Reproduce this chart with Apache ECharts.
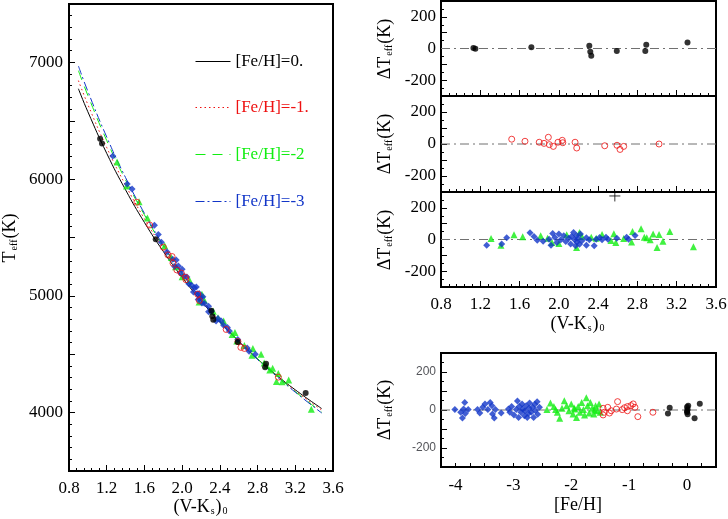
<!DOCTYPE html>
<html>
<head>
<meta charset="utf-8">
<script src="https://cdn.jsdelivr.net/npm/echarts@6/dist/echarts.min.js"></script>
<style>
  html, body { margin: 0; padding: 0; background: #fff; }
  #main { width: 728px; height: 519px; }
</style>
</head>
<body>
<div id="main"></div>
<script>
// fitted relations Teff(V-K) per metallicity
const curveVK = [0.9, 1.0, 1.2, 1.4, 1.6, 1.8, 2.0, 2.2, 2.4, 2.6, 2.8, 3.0, 3.2, 3.48];
const curveFe0 = [6774, 6577, 6221, 5908, 5629, 5381, 5159, 4958, 4776, 4611, 4460, 4322, 4195, 4035];
const curveFe1 = [6844, 6639, 6271, 5948, 5661, 5406, 5174, 4968, 4781, 4611, 4458, 4317, 4187, 4023];
const curveFe2 = [6929, 6717, 6331, 5993, 5694, 5426, 5189, 4978, 4786, 4616, 4460, 4317, 4180, 4003];
const curveFe3 = [6969, 6752, 6361, 6013, 5707, 5436, 5194, 4978, 4786, 4611, 4455, 4312, 4175, 3997];

// stars, [Fe/H] ~ 0
const vkFe0 = [1.13, 1.15, 1.72, 2.31, 2.32, 2.33, 2.59, 2.88, 2.89, 3.31];
const teffFe0 = [6345, 6305, 5485, 4873, 4826, 4795, 4604, 4389, 4418, 4168];
const dtFe0 = [3, -1, 8, 17, -21, -45, -15, -15, 23, 38];

// [Fe/H] ~ -1
const vkFe1 = [1.52, 1.655, 1.80, 1.849, 1.893, 1.903, 1.944, 1.991, 2.035, 2.04, 2.165, 2.182, 2.467, 2.592, 2.623, 2.66, 3.02];
const teffFe1 = [5802, 5607, 5417, 5351, 5337, 5280, 5222, 5195, 5159, 5139, 5014, 4960, 4712, 4609, 4559, 4550, 4304];
const dtFe1 = [30, 17, 11, 4, 42, -4, -15, 11, 23, 8, 11, -25, -11, -8, -34, -15, 0];

// [Fe/H] ~ -2
const vkFe2 = [1.31, 1.41, 1.543, 1.632, 1.815, 1.885, 1.93, 2.0, 2.08, 2.18, 2.21, 2.235, 2.33, 2.38, 2.44, 2.53, 2.56, 2.58, 2.66, 2.74,
               2.75, 2.837, 2.87, 2.895, 2.93, 2.96, 3.0, 3.02, 3.06, 3.13, 3.37];
const teffFe2 = [6146, 5942, 5807, 5666, 5430, 5329, 5249, 5164, 5132, 4947, 5013, 4963, 4869, 4813, 4784, 4670, 4686, 4614, 4575, 4491,
                 4550, 4501, 4426, 4404, 4366, 4380, 4266, 4335, 4264, 4279, 4028];
const dtFe2 = [6, -36, 30, 17, 23, 8, -19, -25, 30, -51, 45, 19, 15, 8, 32, -6, 36, -19, 6, -15,
               51, 68, 15, 11, -2, 34, -51, 32, -11, 51, -45];

// [Fe/H] ~ -3
const vkFe3 = [1.265, 1.418, 1.469, 1.706, 1.747, 1.78, 1.84, 1.90, 1.92, 1.937, 1.96, 1.98, 2.0, 2.02, 2.05, 2.07, 2.1, 2.12, 2.13, 2.15,
               2.16, 2.17, 2.18, 2.185, 2.195, 2.21, 2.22, 2.235, 2.28, 2.28, 2.31, 2.36, 2.38, 2.415, 2.44, 2.48, 2.5, 2.59, 2.69, 2.71, 2.776];
const teffFe3 = [6199, 5958, 5915, 5605, 5526, 5459, 5375, 5314, 5252, 5307, 5255, 5199, 5228, 5170, 5161, 5103, 5091, 5034, 5070, 5075,
                 5017, 4969, 5021, 4978, 4989, 4938, 4992, 4936, 4864, 4911, 4869, 4785, 4807, 4785, 4748, 4729, 4699, 4627, 4554, 4526, 4499];
const dtFe3 = [-36, -28, 11, 42, 19, -4, -11, 2, -36, 38, 13, -19, 34, -2, 23, -13, 8, -28, 19, 45,
               -2, -40, 23, -15, 6, -30, 34, -8, -36, 11, -2, -40, 2, 13, -2, 15, 2, 8, 15, 2, 25];

// residuals against [Fe/H] (bottom right panel)
const fehB0 = [-0.33, -0.30, 0.0, 0.01, 0.0, 0.01, 0.02, 0.0, 0.13, 0.22];
const dtB0 = [-19, 12, 16, 2, -12, -23, 23, -5, -44, 33];
const fehB1 = [-1.45, -1.43, -1.45, -1.37, -1.34, -1.31, -1.20, -1.22, -1.12, -1.08, -1.03, -0.97, -0.93, -0.90, -0.85, -1.03, -0.59];
const dtB1 = [9, -12, -26, 14, -16, -4, 44, 5, 2, 12, -4, 23, 32, 14, -35, 18, -12];
const fehB2 = [-2.42, -2.36, -2.30, -2.27, -2.24, -2.20, -2.16, -2.12, -2.08, -2.04, -2.0, -1.97, -1.95, -1.94, -1.91, -1.88, -1.85, -1.82,
               -1.79, -1.77, -1.74, -1.72, -1.69, -1.67, -1.64, -1.61, -1.60, -1.58, -1.55, -1.52, -1.50];
const dtB2 = [2, 37, 19, 2, -12, -44, 9, 49, 23, -4, 32, -21, 10, 5, -39, 19, -12, 40,
              2, -26, 65, 23, -16, 40, 9, -21, 0, 23, -4, 32, -12];
const fehB3 = [-4.01, -3.91, -3.88, -3.84, -3.86, -3.83, -3.78, -3.62, -3.58, -3.53, -3.49, -3.44, -3.40, -3.37, -3.36, -3.33, -3.31, -3.21,
               -3.085, -3.06, -3.03, -2.99, -2.95, -2.93, -2.91, -2.90, -2.87, -2.85, -2.84, -2.81, -2.80, -2.78, -2.76, -2.74, -2.73, -2.72,
               -2.69, -2.67, -2.65, -2.63, -2.62, -2.59, -2.58, -2.55];
const dtB3 = [2, -12, -42, 40, 5, -18, 2, 2, -16, 14, 32, 2, 40, 23, -21, -42, 2, -16,
              5, -12, 19, -26, 2, 47, -39, 19, -12, 32, 5, -30, -4, 23, -39, -19, 9, 37,
              -12, 14, -39, 30, -2, 44, -23, 14];

const plusMark = [2.57, 275];

const legendNames = ['[Fe/H]=0.', '[Fe/H]=-1.', '[Fe/H]=-2', '[Fe/H]=-3'];

const FONT = '"Liberation Serif", "Times New Roman", serif';
const C0 = '#000000', C1 = '#ee1111', C2 = '#11ee11', C3 = '#1236c8';

function pairs(xs, ys) {
    return xs.map((x, i) => [x, ys[i]]);
}

const rich = {
    a: { fontFamily: FONT, fontSize: 18, fill: '#000' },
    s: { fontFamily: FONT, fontSize: 10, fill: '#000', verticalAlign: 'bottom', padding: [0, 1, 0, 1] }
};

// label only some of the tick values
const onlyAt = list => v => (list.some(w => Math.abs(w - v) < 1e-6) ? String(v) : '');

const vkAxis = { min: 0.8, max: 3.6, interval: 0.4, minorSplit: 5, fmt: v => v.toFixed(1), margin: 9 };
const dtAxis = { min: -300, max: 300, interval: 100, minorSplit: 2, fmt: onlyAt([-200, 0, 200]), margin: 5 };

const panels = [
    { grid: { left: 69, top: 4, width: 264, height: 467 },
      x: vkAxis,
      y: { min: 3500, max: 7500, interval: 500, minorSplit: 5, fmt: onlyAt([4000, 5000, 6000, 7000]), margin: 6 } },
    { grid: { left: 441, top: 1, width: 275, height: 95 },
      x: Object.assign({ hideLabels: true }, vkAxis), y: dtAxis },
    { grid: { left: 441, top: 96, width: 275, height: 96 },
      x: Object.assign({ hideLabels: true }, vkAxis), y: dtAxis },
    { grid: { left: 441, top: 192, width: 275, height: 95 },
      x: vkAxis, y: dtAxis },
    { grid: { left: 441, top: 353, width: 275, height: 114 },
      x: { min: -4.25, max: 0.5, interval: 0.25, minorSplit: 0, tickLen: 4, fmt: onlyAt([-4, -3, -2, -1, 0]), margin: 10 },
      y: Object.assign({ plainFont: true }, dtAxis) }
];

const grids = [], xAxes = [], yAxes = [];

function axisFor(gi, spec, side) {
    const label = { show: !spec.hideLabels, formatter: spec.fmt, margin: spec.margin };
    if (!spec.plainFont) Object.assign(label, { fontFamily: FONT, fontSize: 17, color: '#000' });
    return {
        type: 'value', gridIndex: gi, position: side,
        min: spec.min, max: spec.max, interval: spec.interval,
        axisLine: { show: true, onZero: false, lineStyle: { color: '#000', width: 2 } },
        splitLine: { show: false },
        axisTick: { show: true, inside: true, length: spec.tickLen || 6, lineStyle: { color: '#000', width: 1 } },
        minorTick: { show: spec.minorSplit > 0, splitNumber: spec.minorSplit || 5, length: 3,
                     lineStyle: { color: '#000', width: 1 } },
        axisLabel: label
    };
}

panels.forEach((p, gi) => {
    grids.push(Object.assign({ show: true, borderColor: '#000', borderWidth: 2, backgroundColor: 'rgba(0,0,0,0)',
                               containLabel: false, outerBoundsMode: 'none' }, p.grid));
    xAxes.push(axisFor(gi, p.x, 'bottom'));
    yAxes.push(axisFor(gi, p.y, 'left'));
});

// axis titles as graphic text (subscripts via rich text)
function title(text, x, y, rotate) {
    return { type: 'text', x: x, y: y, rotation: rotate ? Math.PI / 2 : 0,
             style: { text: text, rich: rich, align: 'center', verticalAlign: 'middle', fontFamily: FONT, fontSize: 18, fill: '#000' } };
}
const vkTitle = '{a|(V-K}{s|s}{a|)}{s|0}';
const dtTitle = '{a|\u0394T}{s|eff}{a|(K)}';
const titles = [
    title('{a|T}{s|eff}{a|(K)}', 10, 238, true),
    title(vkTitle, 201, 507, false),
    title(dtTitle, 385, 49, true),
    title(dtTitle, 385, 144, true),
    title(dtTitle, 385, 240, true),
    title(vkTitle, 578, 324, false),
    title('{a|[Fe/H]}', 578, 505, false),
    title(dtTitle, 385, 410, true)
];

function on(gi, s) {
    return Object.assign({ xAxisIndex: gi, yAxisIndex: gi }, s);
}
function curve(name, ys, color, type) {
    return on(0, { type: 'line', name: name, data: pairs(curveVK, ys), smooth: true, symbol: 'none',
                   lineStyle: { color: color, width: 1, type: type }, itemStyle: { color: color }, z: 2 });
}
const dotBlack = { type: 'scatter', symbol: 'circle', symbolSize: 6, itemStyle: { color: C0 }, z: 5 };
const ringRed = { type: 'scatter', symbol: 'circle', symbolSize: 6,
                  itemStyle: { color: 'rgba(0,0,0,0)', borderColor: C1, borderWidth: 1 }, z: 5 };
const triGreen = { type: 'scatter', symbol: 'triangle', symbolSize: 7, itemStyle: { color: C2 }, z: 4 };
const diaBlue = { type: 'scatter', symbol: 'diamond', symbolSize: 7, itemStyle: { color: C3 }, z: 4 };
function pts(gi, base, xs, ys) {
    return on(gi, Object.assign({ data: pairs(xs, ys) }, base));
}
function zeroLine(gi, x0, x1) {
    return on(gi, { type: 'line', data: [[x0, 0], [x1, 0]], symbol: 'none',
                    lineStyle: { color: '#707070', width: 1, type: [9, 4, 2, 4] }, z: 2 });
}

const series = [
    curve(legendNames[0], curveFe0, C0, 'solid'),
    curve(legendNames[1], curveFe1, C1, [1.5, 3]),
    curve(legendNames[2], curveFe2, C2, [10, 7]),
    curve(legendNames[3], curveFe3, C3, [9, 3, 2, 3]),
    pts(0, triGreen, vkFe2, teffFe2),
    pts(0, diaBlue, vkFe3, teffFe3),
    pts(0, ringRed, vkFe1, teffFe1),
    pts(0, dotBlack, vkFe0, teffFe0),

    zeroLine(1, 0.8, 3.6),
    pts(1, dotBlack, vkFe0, dtFe0),

    zeroLine(2, 0.8, 3.6),
    pts(2, ringRed, vkFe1, dtFe1),

    zeroLine(3, 0.8, 3.6),
    pts(3, triGreen, vkFe2, dtFe2),
    pts(3, diaBlue, vkFe3, dtFe3),
    on(3, { type: 'scatter', data: [plusMark], symbol: 'path://M5,0L5,10M0,5L10,5', symbolSize: 11,
            itemStyle: { color: 'rgba(0,0,0,0)', borderColor: '#000', borderWidth: 1 }, z: 5 }),

    zeroLine(4, -4.25, 0.5),
    pts(4, diaBlue, fehB3, dtB3),
    pts(4, triGreen, fehB2, dtB2),
    pts(4, ringRed, fehB1, dtB1),
    pts(4, dotBlack, fehB0, dtB0)
];

const legendColors = [C0, C1, C2, C3];
const legendTops = [53, 99, 146, 193];
const legends = legendNames.map((name, i) => ({
    left: 195, top: legendTops[i], padding: 0, itemWidth: 35, itemHeight: 12, selectedMode: false,
    itemStyle: { opacity: 0 },
    lineStyle: { width: 1 },
    textStyle: { fontFamily: FONT, fontSize: 17 },
    data: [{ name: name, textStyle: { color: legendColors[i], fontFamily: FONT, fontSize: 17 } }]
}));

const chart = echarts.init(document.getElementById('main'));
chart.setOption({
    animation: false,
    grid: grids,
    xAxis: xAxes,
    yAxis: yAxes,
    legend: legends,
    graphic: titles,
    series: series
});
</script>
</body>
</html>
